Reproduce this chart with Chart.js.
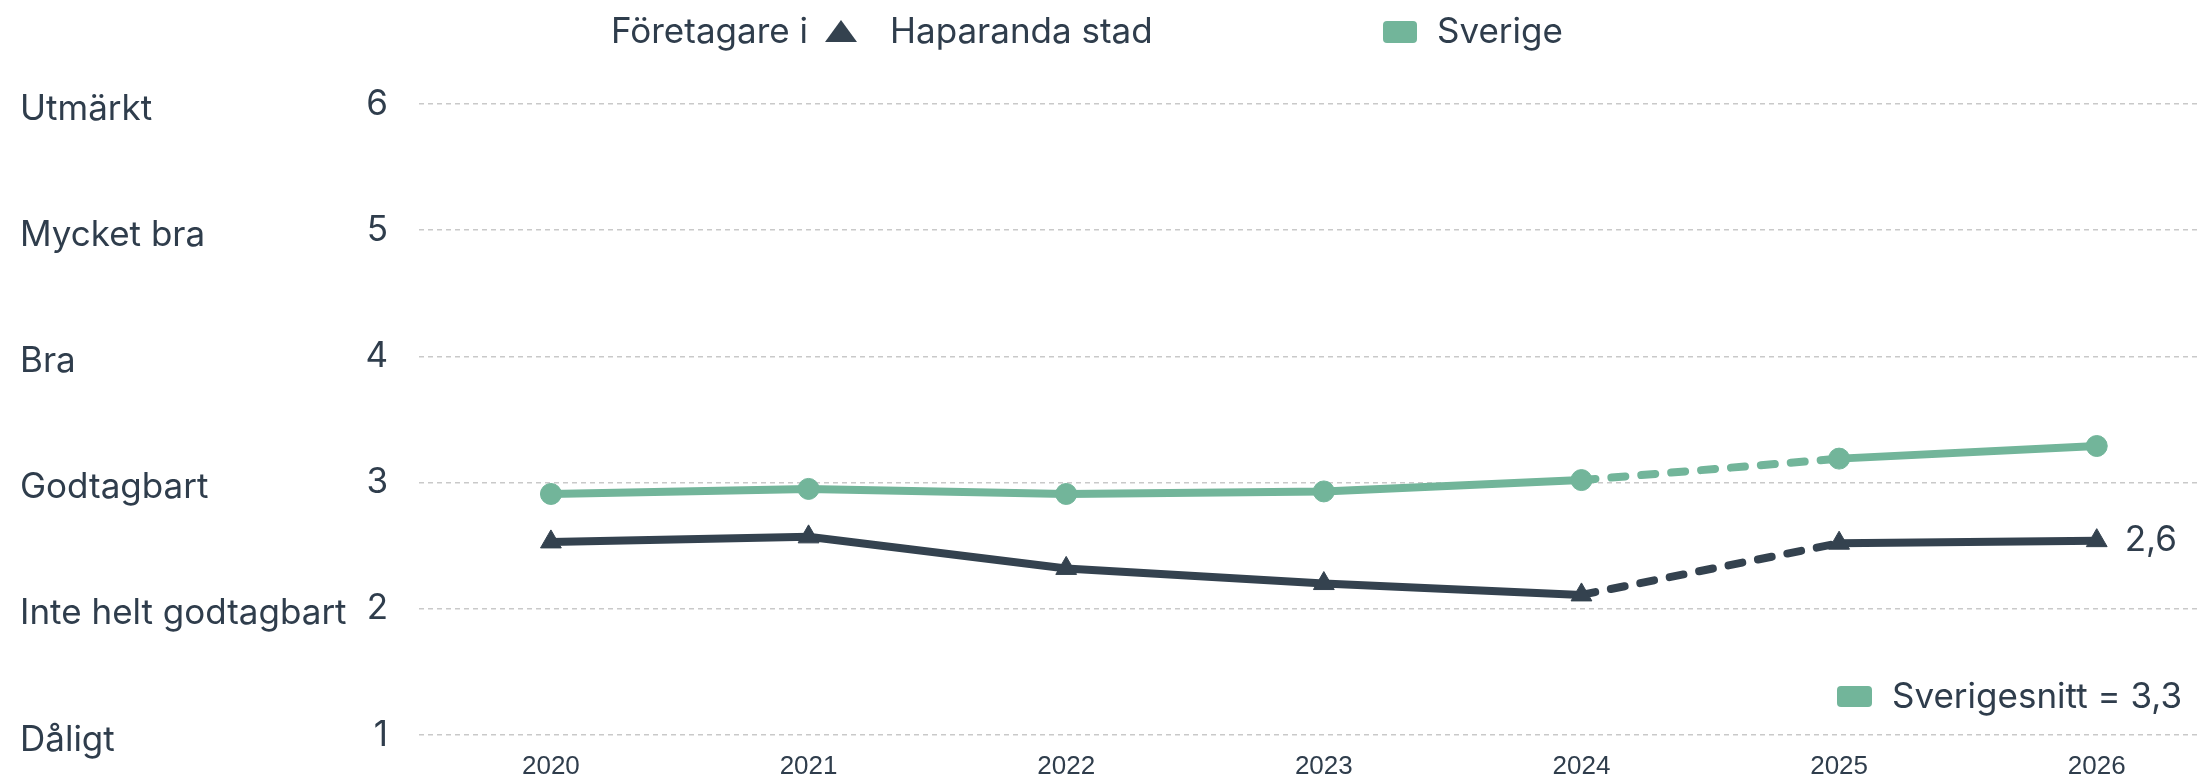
<!DOCTYPE html>
<html lang="sv">
<head>
  <meta charset="UTF-8" />
  <title>Företagare i Haparanda stad</title>
  <style>
    html, body { margin: 0; padding: 0; background: #fff; overflow: hidden; }
    #wrap { width: 2211px; height: 778px; position: relative; }
    canvas { display: block; }
  </style>
  <script src="https://cdn.jsdelivr.net/npm/chart.js"></script>
</head>
<body>
  <div id="wrap"><canvas id="graf"></canvas></div>

  <script>
    // data
    const years = [2020, 2021, 2022, 2023, 2024, 2025, 2026];
    const haparanda = [2.53, 2.57, 2.32, 2.20, 2.11, 2.52, 2.54];
    const sverige = [2.91, 2.95, 2.91, 2.93, 3.02, 3.19, 3.29];
    const yTicks = [1, 2, 3, 4, 5, 6];
    const yNames = ['Dåligt', 'Inte helt godtagbart', 'Godtagbart', 'Bra', 'Mycket bra', 'Utmärkt'];
    const slutEtikett = '2,6';
    const snittEtikett = 'Sverigesnitt = 3,3';

    const MORK = '#34424f';
    const GRON = '#72b59a';
    const TEXT = '#2f3d4c';
    const FONT = 'Inter, "Open Sans", sans-serif';

    // streckad linje mellan 2024 och 2025
    const streck = ctx => ctx.p0DataIndex === 4 ? [14, 16] : undefined;

    // ingen extra kantutfyllnad från axlarna
    const nollaPadding = s => { s.paddingLeft = 0; s.paddingRight = 0; s.paddingTop = 0; s.paddingBottom = 0; };

    const etiketter = {
      id: 'etiketter',
      afterDatasetsDraw(chart) {
        const c = chart.ctx;
        const meta = chart.getDatasetMeta(0);
        const sista = meta.data[meta.data.length - 1];
        c.save();
        c.fillStyle = TEXT;
        c.font = '35px ' + FONT;
        c.textBaseline = 'middle';
        c.textAlign = 'left';
        c.fillText(slutEtikett, sista.x + 28, sista.y);

        // sverigesnitt-ruta
        const bx = chart.width - 374, by = chart.chartArea.bottom - 49;
        c.fillStyle = GRON;
        c.beginPath();
        c.roundRect(bx, by, 35, 21, 4);
        c.fill();
        c.fillStyle = TEXT;
        c.fillText(snittEtikett, bx + 55, by + 11);
        c.restore();
      },
      afterDraw(chart) {
        const c = chart.ctx;
        c.save();
        c.fillStyle = TEXT;
        c.font = '35px ' + FONT;
        c.textBaseline = 'middle';
        c.textAlign = 'left';
        const y = 32;
        c.fillText('Företagare i', 611, y);
        // triangel
        c.fillStyle = MORK;
        c.beginPath();
        c.moveTo(841, y - 12);
        c.lineTo(857, y + 10);
        c.lineTo(825, y + 10);
        c.closePath();
        c.fill();
        c.fillStyle = TEXT;
        c.fillText('Haparanda stad', 890, y);
        c.fillStyle = GRON;
        c.beginPath();
        c.roundRect(1383, y - 11, 34, 22, 4);
        c.fill();
        c.fillStyle = TEXT;
        c.fillText('Sverige', 1437, y);
        c.restore();
      }
    };

    new Chart(document.getElementById('graf'), {
      type: 'line',
      data: {
        datasets: [
          {
            label: 'Haparanda stad',
            data: years.map((x, i) => ({ x: x, y: haparanda[i] })),
            borderColor: MORK,
            backgroundColor: MORK,
            borderWidth: 8,
            borderCapStyle: 'round',
            pointStyle: 'triangle',
            pointRadius: 12,
            pointBorderWidth: 1,
            pointBackgroundColor: MORK,
            segment: { borderDash: streck }
          },
          {
            label: 'Sverige',
            data: years.map((x, i) => ({ x: x, y: sverige[i] })),
            borderColor: GRON,
            backgroundColor: GRON,
            borderWidth: 8,
            borderCapStyle: 'round',
            pointStyle: 'circle',
            pointRadius: 10.5,
            pointBorderWidth: 1,
            pointBackgroundColor: GRON,
            segment: { borderDash: streck }
          }
        ]
      },
      options: {
        responsive: true,
        maintainAspectRatio: false,
        animation: false,
        layout: { padding: { left: 20, top: 104, right: 0, bottom: 0 } },
        plugins: {
          legend: { display: false },
          tooltip: { enabled: false }
        },
        scales: {
          x: {
            type: 'linear',
            bounds: 'data',
            min: 2019.488,
            max: 2026.393,
            grid: { display: false, drawTicks: false },
            border: { display: false },
            afterBuildTicks: s => { s.ticks = years.map(v => ({ value: v })); },
            afterFit: s => { s.height = 43; nollaPadding(s); },
            ticks: {
              padding: 16,
              maxRotation: 0,
              color: TEXT,
              font: { family: '"Liberation Sans", Arial, sans-serif', size: 26 },
              callback: v => String(v)
            }
          },
          yNamn: {
            type: 'linear',
            position: 'left',
            weight: 1,
            min: 1,
            max: 6,
            grid: { display: false, drawTicks: false },
            border: { display: false },
            afterBuildTicks: s => { s.ticks = yTicks.map(v => ({ value: v })); },
            afterFit: s => { s.width = 330; nollaPadding(s); },
            ticks: {
              crossAlign: 'far',
              padding: 0,
              labelOffset: 5,
              color: TEXT,
              font: { family: FONT, size: 35 },
              callback: v => yNames[yTicks.indexOf(v)]
            }
          },
          y: {
            type: 'linear',
            position: 'left',
            weight: 0,
            min: 1,
            max: 6,
            grid: { color: '#c9c9c9', lineWidth: 1.5, drawTicks: false },
            border: { display: false, dash: [5, 4] },
            afterBuildTicks: s => { s.ticks = yTicks.map(v => ({ value: v })); },
            afterFit: s => { s.width = 69; nollaPadding(s); },
            ticks: {
              padding: 31,
              color: TEXT,
              font: { family: FONT, size: 35 },
              callback: v => String(v)
            }
          }
        }
      },
      plugins: [etiketter]
    });
  </script>
</body>
</html>
